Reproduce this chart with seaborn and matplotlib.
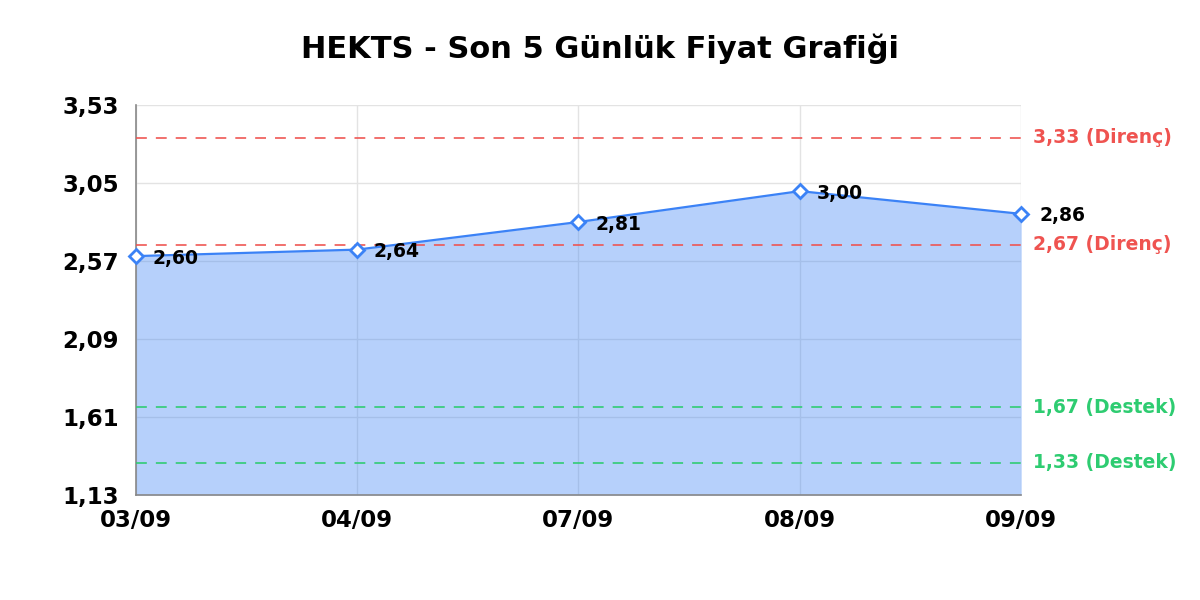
import numpy as np
import pandas as pd
import matplotlib
matplotlib.use("Agg")
import matplotlib.pyplot as plt
import matplotlib.transforms as mtransforms
import seaborn as sns

dates = ["03/09", "04/09", "07/09", "08/09", "09/09"]
prices = [2.60, 2.64, 2.81, 3.00, 2.86]
resistance = [3.33, 2.67]
support = [1.67, 1.33]
yticks = [1.13, 1.61, 2.09, 2.57, 3.05, 3.53]

blue = "#3b82f6"
red = "#ef5350"
green = "#2ecc71"

sns.set_style("white")
plt.rcParams["font.family"] = ["DejaVu Sans"]
plt.rcParams["font.weight"] = "bold"
plt.rcParams["text.color"] = "black"
plt.rcParams["xtick.color"] = "black"
plt.rcParams["ytick.color"] = "black"

df = pd.DataFrame({"pos": np.arange(len(dates)), "price": prices})

fig = plt.figure(figsize=(12, 6), dpi=100)
ax = fig.add_axes([0.113, 0.175, 0.738, 0.65])

ax.set_axisbelow(True)
ax.grid(True, color="#e3e3e3", linewidth=1)

ax.fill_between(df["pos"], yticks[0], df["price"], color=blue, alpha=0.37,
                linewidth=0, zorder=2)
sns.lineplot(data=df, x="pos", y="price", ax=ax, color=blue, linewidth=1.6,
             marker="D", markersize=7, markerfacecolor="white",
             markeredgecolor=blue, markeredgewidth=2, zorder=4)
for line in ax.lines:
    line.set_clip_on(False)

trans = mtransforms.blended_transform_factory(ax.transAxes, ax.transData)
for lvl in resistance:
    ax.axhline(lvl, color=red, linestyle=(0, (6, 5)), linewidth=1.3, alpha=0.9, zorder=3)
    ax.text(1.013, lvl, f"{lvl:.2f}".replace(".", ",") + " (Direnç)", transform=trans,
            color=red, fontsize=13.5, fontweight="bold", va="center", ha="left")
for lvl in support:
    ax.axhline(lvl, color=green, linestyle=(0, (6, 5)), linewidth=1.3, alpha=0.9, zorder=3)
    ax.text(1.013, lvl, f"{lvl:.2f}".replace(".", ",") + " (Destek)", transform=trans,
            color=green, fontsize=13.5, fontweight="bold", va="center", ha="left")

for i, p in enumerate(prices):
    dx = 13 if i == len(prices) - 1 else 12
    ax.annotate(f"{p:.2f}".replace(".", ","), (i, p), xytext=(dx, -1.5),
                textcoords="offset points", ha="left", va="center",
                fontsize=13.5, fontweight="bold", color="black", zorder=5)

ax.set_xlim(0, len(dates) - 1)
ax.set_ylim(yticks[0], yticks[-1])
ax.set_xticks(range(len(dates)))
ax.set_xticklabels(dates, fontsize=16.5, fontweight="bold")
ax.set_yticks(yticks)
ax.set_yticklabels([f"{v:.2f}".replace(".", ",") for v in yticks],
                   fontsize=16.5, fontweight="bold")
ax.tick_params(axis="x", length=0, pad=10)
ax.tick_params(axis="y", length=0, pad=12)
ax.set_xlabel("")
ax.set_ylabel("")

for s in ["top", "right"]:
    ax.spines[s].set_visible(False)
for s in ["left", "bottom"]:
    ax.spines[s].set_color("#888888")
    ax.spines[s].set_linewidth(1.2)

fig.suptitle("HEKTS - Son 5 Günlük Fiyat Grafiği", fontsize=22, fontweight="bold",
             y=0.945)

fig.savefig("out.png", dpi=100)
